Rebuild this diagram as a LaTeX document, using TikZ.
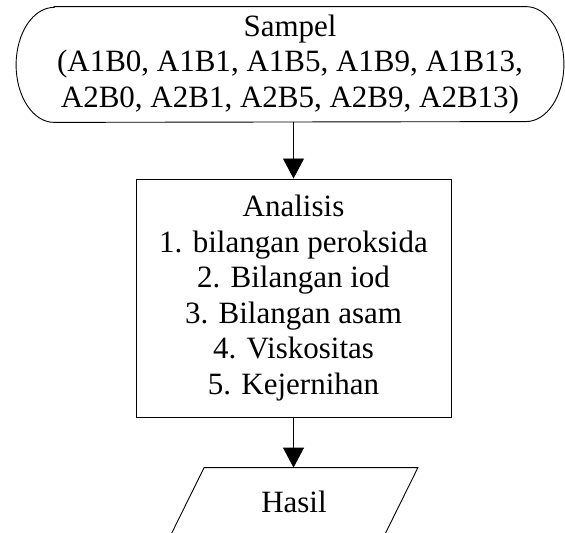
\documentclass[tikz,border=0pt]{standalone}
\usepackage{fontspec}
\setmainfont{Liberation Serif}
\usetikzlibrary{arrows.meta}

\begin{document}
\begin{tikzpicture}[
    x=0.5pt, y=0.5pt,
    >={Triangle[length=10pt,width=10.5pt]}, % Filled arrow heads
    font=\fontsize{15.5}{17.8}\selectfont,
    % Styles
    terminal/.style={ % Start block (outline drawn around it)
        rectangle,
        align=center,
        minimum height=57.5pt,
        minimum width=273.5pt
    },
    outline/.style={ % Border lines
        draw,
        line width=0.45pt
    },
    process/.style={ % Process block
        rectangle,
        outline,
        align=center,
        minimum height=119pt,
        minimum width=157.5pt
    },
    inout/.style={ % Input / output block (outline drawn around it)
        rectangle,
        minimum height=34pt,
        minimum width=106.5pt
    },
    arrow/.style={
        ->,
        line width=0.45pt
    }
]
    % Picture size
    \useasboundingbox (0,0) rectangle (565,533);

    % Blocks
    \node [terminal] (sampel) at (290,468.5) {Sampel\\(A1B0, A1B1, A1B5, A1B9, A1B13,\\A2B0, A2B1, A2B5, A2B9, A2B13)};
    \node [process] (analisis) at (293.5,235) {Analisis\\1. bilangan peroksida\\2. Bilangan iod\\3. Bilangan asam\\4. Viskositas\\5. Kejernihan};
    \node [inout] (hasil) at (294,31) {Hasil};

    % Start block outline with round ends
    \draw [outline] ([xshift=19pt]sampel.north west) -- ([xshift=-19pt]sampel.north east)
        arc[start angle=90, end angle=-90, x radius=19pt, y radius=28.75pt]
        -- ([xshift=19pt]sampel.south west)
        arc[start angle=270, end angle=90, x radius=19pt, y radius=28.75pt] -- cycle;

    % Output block outline (slanted sides)
    \draw [outline] ([xshift=8.5pt]hasil.north west) -- ([xshift=8.5pt]hasil.north east)
        -- ([xshift=-8.5pt]hasil.south east) -- ([xshift=-8.5pt]hasil.south west) -- cycle;

    % Arrows
    \draw [arrow] (sampel.south -| analisis.north) -- (analisis.north);
    \draw [arrow] (analisis) -- (analisis.south |- hasil.north);
\end{tikzpicture}
\end{document}
